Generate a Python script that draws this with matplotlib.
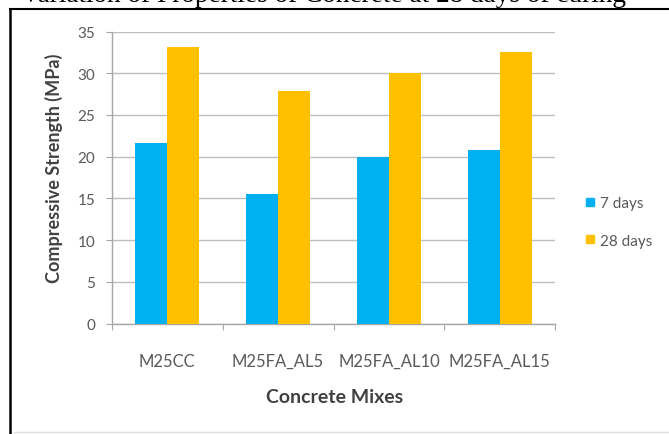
import matplotlib
matplotlib.use("Agg")
import matplotlib.pyplot as plt
import numpy as np
from matplotlib.lines import Line2D

categories = ["M25CC", "M25FA_AL5", "M25FA_AL10", "M25FA_AL15"]
series_names = ["7 days", "28 days"]
days7 = [21.6, 15.5, 19.9, 20.8]
days28 = [33.2, 27.9, 30.0, 32.6]
yticks = [0, 5, 10, 15, 20, 25, 30, 35]
caption = "Variation of Properties of Concrete at 28 days of curing"

W, H = 669, 435
fig = plt.figure(figsize=(W/100, H/100), dpi=100)
fig.patch.set_facecolor("white")

def fx(px):
    return px / W

def fy(py):
    return 1 - py / H

ax = fig.add_axes([fx(111.7), fy(324.5), fx(555.3) - fx(111.7), fy(32.5) - fy(324.5)])
x = np.arange(len(categories))
bw = 0.29
ax.bar(x - bw/2, days7, width=bw, color="#00B0F0", zorder=3, label=series_names[0])
ax.bar(x + bw/2, days28, width=bw, color="#FFC000", zorder=3, label=series_names[1])
ax.set_xlim(-0.5, len(categories) - 0.5)
ax.set_ylim(0, 35)
ax.set_yticks(yticks)
ax.yaxis.grid(True, color="#BDBDBD", linewidth=1.0, zorder=0)
ax.set_axisbelow(True)
for s in ["top", "right"]:
    ax.spines[s].set_visible(False)
for s in ["left", "bottom"]:
    ax.spines[s].set_color("#A6A6A6")
    ax.spines[s].set_linewidth(1.0)

ax.set_xticks(np.arange(len(categories) + 1) - 0.5)
ax.set_xticklabels([])
ax.set_xticks(x, minor=True)
ax.set_xticklabels(categories, minor=True)
ax.tick_params(axis="x", which="major", length=4, color="#A6A6A6", direction="out")
ax.tick_params(axis="x", which="minor", length=0, pad=21, labelsize=12, labelcolor="#595959")
ax.tick_params(axis="y", length=4, color="#A6A6A6", direction="out", labelsize=11,
               labelcolor="#595959", pad=8)
for lab in ax.get_xticklabels(minor=True) + ax.get_yticklabels():
    lab.set_family("Lato")

fig.text(fx(54), fy(168), "Compressive Strength (MPa)", rotation=90, ha="center", va="center",
         fontsize=13, fontweight="bold", color="#404040", family="Lato")
fig.text(fx(335), fy(398), "Concrete Mixes", ha="center", va="center",
         fontsize=14, fontweight="bold", color="#404040", family="Lato")

handles = [Line2D([], [], marker="s", linestyle="none", markersize=6, markerfacecolor=c,
                  markeredgecolor=c) for c in ["#00B0F0", "#FFC000"]]
leg = fig.legend(handles, series_names, loc="center left", bbox_to_anchor=(fx(569), fy(223)),
                 frameon=False, handletextpad=0.1, labelspacing=1.55, handlelength=1.0,
                 prop={"family": "Lato", "size": 11})
for t in leg.get_texts():
    t.set_color("#595959")

# frame lines
fig.add_artist(Line2D([fx(10), fx(669)], [fy(9.5), fy(9.5)], color="black", linewidth=1.5))
fig.add_artist(Line2D([fx(10), fx(10)], [fy(9.5), fy(435)], color="black", linewidth=1.8))
fig.add_artist(Line2D([fx(14), fx(669)], [fy(433), fy(433)], color="#E0E0E0", linewidth=1.0))

# partially cut caption at top
fig.text(fx(21), fy(1.5), caption, ha="left", va="baseline", fontsize=19.6,
         family="Liberation Serif", color="black")

fig.savefig("out.png", dpi=100, facecolor="white")
